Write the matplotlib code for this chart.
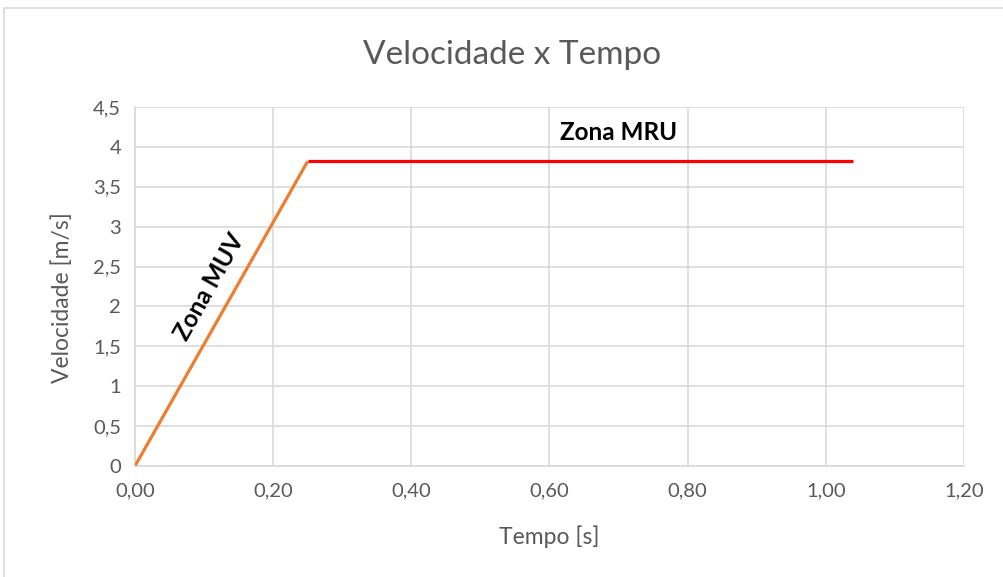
import matplotlib
matplotlib.use("Agg")
import matplotlib.pyplot as plt
from matplotlib.ticker import FuncFormatter
from matplotlib.patches import Rectangle

# Data
t_muv = [0.0, 0.25]
v_muv = [0.0, 3.82]
t_mru = [0.25, 1.04]
v_mru = [3.82, 3.82]

x_ticks = [0.0, 0.2, 0.4, 0.6, 0.8, 1.0, 1.2]
y_ticks = [0, 0.5, 1, 1.5, 2, 2.5, 3, 3.5, 4, 4.5]

plt.rcParams['font.family'] = ['Lato', 'DejaVu Sans']

W, H = 1004, 577
fig = plt.figure(figsize=(W / 100, H / 100), dpi=100)
ax = fig.add_axes([135 / W, 1 - 466 / H, (964 - 135) / W, (466 - 107) / H])

# Chart frame
fig.patches.append(Rectangle((4 / W, -0.1), 1.1, 1 - 8 / H + 0.1,
                             transform=fig.transFigure, fill=False,
                             edgecolor='#d9d9d9', linewidth=1.2))

ax.plot(t_muv, v_muv, color='#ED7D31', linewidth=2.3, solid_capstyle='butt', zorder=3)
ax.plot(t_mru, v_mru, color='#FF0000', linewidth=2.3, solid_capstyle='butt', zorder=3)

ax.set_xlim(0, 1.2)
ax.set_ylim(0, 4.5)
ax.set_xticks(x_ticks)
ax.set_yticks(y_ticks)
ax.xaxis.set_major_formatter(FuncFormatter(lambda v, p: f"{v:.2f}".replace('.', ',')))
ax.yaxis.set_major_formatter(FuncFormatter(lambda v, p: (f"{v:g}").replace('.', ',')))
ax.tick_params(length=0, labelsize=14.5, colors='#595959')
ax.tick_params(axis='x', pad=12)
ax.tick_params(axis='y', pad=10)
ax.grid(True, color='#d9d9d9', linewidth=1.2)
ax.set_axisbelow(True)
for side in ['top', 'right']:
    ax.spines[side].set_visible(False)
for side in ['left', 'bottom']:
    ax.spines[side].set_color('#d9d9d9')
    ax.spines[side].set_linewidth(1.2)

fig.text(549 / W, 1 - 537 / H, 'Tempo [s]', ha='center', va='center',
         fontsize=16.5, color='#595959')
fig.text(62 / W, 1 - 298 / H, 'Velocidade [m/s]', ha='center', va='center',
         fontsize=16.5, color='#595959', rotation=90)
fig.text(512 / W, 1 - 55 / H, 'Velocidade x Tempo', ha='center', va='center',
         fontsize=24, color='#595959')

ax.text(0.70, 4.18, 'Zona MRU', ha='center', va='center', fontsize=17.5,
        fontweight='bold', color='black')
ax.text(0.108, 2.25, 'Zona MUV', ha='center', va='center', fontsize=17.5,
        fontweight='bold', color='black', rotation=60.6, rotation_mode='anchor')

fig.savefig('out.png', dpi=100)
